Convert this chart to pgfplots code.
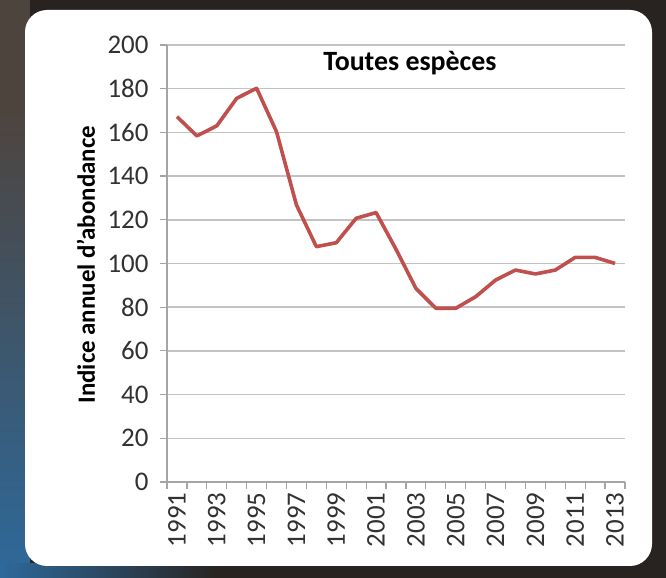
\documentclass[border=0pt]{standalone}
\usepackage{fontspec}
\setmainfont{Carlito}
\usepackage{pgfplots}
\pgfplotsset{compat=1.18}
\definecolor{linered}{RGB}{192,80,77}
\definecolor{gridgray}{RGB}{195,195,195}
\definecolor{axisgray}{RGB}{165,165,165}
\definecolor{txt}{RGB}{50,50,50}
\definecolor{bgdark}{RGB}{40,35,32}
\definecolor{bgbrown}{RGB}{78,68,62}
\definecolor{bgblue}{RGB}{45,105,155}
\begin{document}
\begin{tikzpicture}[x=1bp,y=1bp]
\useasboundingbox (0,0) rectangle (666,578);
\fill[bgdark] (0,0) rectangle (666,578);
\shade[top color=bgbrown, bottom color=bgblue] (0,0) rectangle (30,470);
\fill[bgbrown] (0,470) rectangle (30,578);
\shade[left color=bgblue, right color=bgdark] (0,0) rectangle (220,14);
\fill[white, rounded corners=22bp] (25,12) rectangle (652,568);
\begin{axis}[
  at={(167bp,96bp)}, anchor=south west,
  scale only axis, width=458bp, height=437bp,
  xmin=1990.5, xmax=2013.5, ymin=0, ymax=200,
  axis x line*=bottom, axis y line*=left,
  axis line style={-, draw=axisgray, line width=1.2bp},
  ytick={0,20,...,200},
  xtick={1991,1993,...,2013},
  minor xtick={1990.5,1991.5,...,2013.5},
  major x tick style={draw=none},
  minor x tick style={draw=axisgray, line width=1.2bp},
  major y tick style={draw=axisgray, line width=1.2bp},
  tick align=outside,
  major tick length=7bp, minor tick length=7bp,
  ymajorgrids,
  major grid style={draw=gridgray, line width=1.5bp},
  xticklabel style={rotate=90, anchor=east},
  yticklabel style={xshift=-8bp},
  /pgf/number format/assume math mode=true,
  /pgf/number format/1000 sep={},
  tick label style={font=\fontsize{27}{31}\selectfont, text=txt},
  ylabel={Indice annuel d'abondance},
  every axis y label/.style={at={(rel axis cs:0,0.497)}, xshift=-81bp, rotate=90, anchor=center,
    font=\fontsize{25}{29}\selectfont\bfseries, text=black},
  clip=false,
]
\addplot[color=linered, line width=3.6bp, line join=round] coordinates {
(1991,167.2) (1992,158.4) (1993,163.0) (1994,175.6) (1995,180.2)
(1996,160.3) (1997,126.8) (1998,107.7) (1999,109.5) (2000,120.7)
(2001,123.3) (2002,106.5) (2003,88.6) (2004,79.5) (2005,79.5)
(2006,84.8) (2007,92.4) (2008,97.0) (2009,95.2) (2010,97.0)
(2011,102.8) (2012,102.8) (2013,100.0)
};
\node[font=\fontsize{28}{32}\selectfont\bfseries] at (axis cs:2002.7,191.8) {Toutes espèces};
\end{axis}
\end{tikzpicture}
\end{document}
